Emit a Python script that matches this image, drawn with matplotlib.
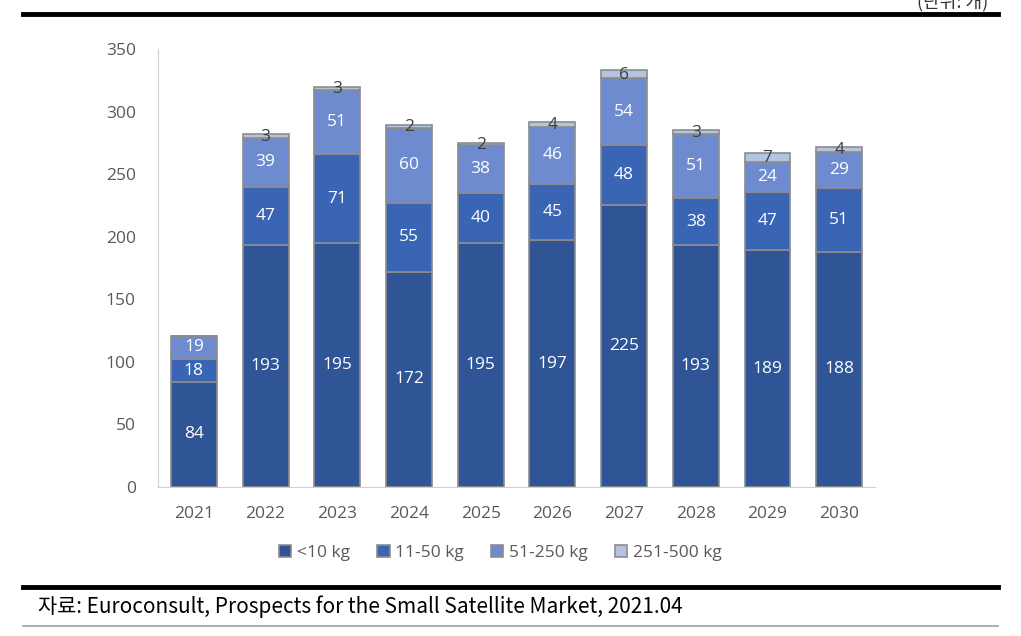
import numpy as np
import matplotlib
matplotlib.use('Agg')
import matplotlib.pyplot as plt
from matplotlib.lines import Line2D

plt.rcParams['font.family'] = ['Noto Sans CJK KR', 'DejaVu Sans']

years = ['2021', '2022', '2023', '2024', '2025', '2026', '2027', '2028', '2029', '2030']
lt10 = [84, 193, 195, 172, 195, 197, 225, 193, 189, 188]
s11_50 = [18, 47, 71, 55, 40, 45, 48, 38, 47, 51]
s51_250 = [19, 39, 51, 60, 38, 46, 54, 51, 24, 29]
s251_500 = [0, 3, 3, 2, 2, 4, 6, 3, 7, 4]
series_names = ['<10 kg', '11-50 kg', '51-250 kg', '251-500 kg']
colors = ['#2F5597', '#3A64B4', '#6E8BD0', '#B4C3E3']

fig = plt.figure(figsize=(10.21, 6.36), dpi=100)
ax = fig.add_axes([0.1548, 0.2343, 0.7022, 0.6887])

x = np.arange(len(years))
bottom = np.zeros(len(years))
for vals, name, c, idx in zip([lt10, s11_50, s51_250, s251_500], series_names, colors, range(4)):
    vals = np.array(vals, dtype=float)
    ax.bar(x, vals, 0.64, bottom=bottom, color=c, edgecolor='#8C8C8C',
           linewidth=1.2, label=name, zorder=2)
    for xi, b, v in zip(x, bottom, vals):
        if v == 0:
            continue
        if idx == 3:
            ax.text(xi, b + v / 2 - 0.5, f'{int(v)}', ha='center', va='center',
                    fontsize=12.5, color='#404040', zorder=3, family='Open Sans')
        else:
            ax.text(xi, b + v / 2, f'{int(v)}', ha='center', va='center',
                    fontsize=12.5, color='white', zorder=3, family='Open Sans')
    bottom += vals

ax.set_xlim(-0.5, 9.5)
ax.set_ylim(0, 350)
ax.set_yticks(np.arange(0, 351, 50))
ax.set_xticks(x)
ax.set_xticklabels(years)
for s in ['top', 'right']:
    ax.spines[s].set_visible(False)
ax.spines['left'].set_color('#D0D0D0')
ax.spines['bottom'].set_color('#D0D0D0')
ax.tick_params(axis='both', length=0, labelsize=12.5, colors='#595959')
ax.tick_params(axis='x', pad=14)
ax.tick_params(axis='y', pad=16)
for lab in ax.get_xticklabels() + ax.get_yticklabels():
    lab.set_family('Open Sans')

leg = fig.legend(loc='center', bbox_to_anchor=(0.49, 0.13), ncol=4, frameon=False,
                 fontsize=12.5, handlelength=0.7, handleheight=0.7, handletextpad=0.3,
                 columnspacing=1.6)
for t in leg.get_texts():
    t.set_color('#595959')
    t.set_family('Open Sans')

# frame lines and texts
fig.add_artist(Line2D([0.023, 0.977], [1 - 14 / 636, 1 - 14 / 636], color='black', lw=3.5))
fig.add_artist(Line2D([0.023, 0.977], [1 - 587 / 636, 1 - 587 / 636], color='black', lw=3.5))
fig.add_artist(Line2D([0.023, 0.977], [1 - 626 / 636, 1 - 626 / 636], color='#A0A0A0', lw=1.2))
fig.text(0.968, 1.0 - 2 / 636, '(단위: 개)', ha='right', va='center', fontsize=13, color='#333333')
fig.text(0.037, 1 - 607 / 636, '자료: Euroconsult, Prospects for the Small Satellite Market, 2021.04',
         ha='left', va='center', fontsize=15, color='black')

fig.savefig('out.png', dpi=100)
